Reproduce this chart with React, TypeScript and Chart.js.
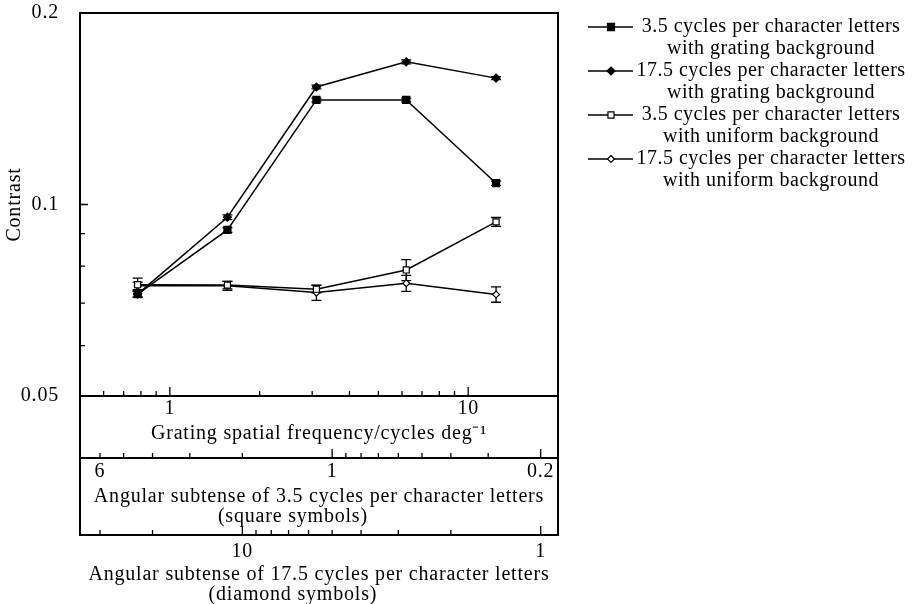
import React, { useEffect, useRef } from 'react';
import { Chart, registerables } from 'chart.js';

Chart.register(...registerables);

// ---- data ----
const FREQ = [0.78, 1.56, 3.1, 6.2, 12.4];

const GRATING_35 = [0.0723, 0.0912, 0.146, 0.146, 0.108];
const GRATING_35_ERR = [0.0008, 0.0008, 0.001, 0.001, 0.0008];
const GRATING_175 = [0.0723, 0.0955, 0.153, 0.1676, 0.158];
const GRATING_175_ERR = [0.0008, 0.0008, 0.001, 0.0012, 0.0009];
const UNIFORM_35 = [0.0748, 0.0747, 0.0736, 0.0789, 0.0939];
const UNIFORM_35_ERR = [0.0018, 0.001, 0.001, 0.003, 0.0015];
const UNIFORM_175 = [0.0745, 0.0745, 0.0727, 0.0752, 0.0722];
const UNIFORM_175_ERR = [0.001, 0.0012, 0.002, 0.0022, 0.002];

const X_MIN = 0.5;
const X_MAX = 20;
const Y_MIN = 0.05;
const Y_MAX = 0.2;
const CYCLES_A = 3.5;
const CYCLES_B = 17.5;

const FREQ_TICKS = [0.6, 0.7, 0.8, 0.9, 1, 2, 3, 4, 5, 6, 7, 8, 9, 10];
const FREQ_LABELS = [1, 10];
const SUB_A_TICKS = [6, 5, 4, 3, 2, 1, 0.9, 0.8, 0.7, 0.6, 0.5, 0.4, 0.3, 0.2];
const SUB_A_LABELS = [6, 1, 0.2];
const SUB_B_TICKS = [30, 20, 10, 9, 8, 7, 6, 5, 4, 3, 2, 1];
const SUB_B_LABELS = [10, 1];
const CONTRAST_TICKS = [0.06, 0.07, 0.08, 0.09, 0.1];
const CONTRAST_LABELS = [0.05, 0.1, 0.2];

const LEGEND_TEXT = [
  ['3.5 cycles per character letters', 'with grating background'],
  ['17.5 cycles per character letters', 'with grating background'],
  ['3.5 cycles per character letters', 'with uniform background'],
  ['17.5 cycles per character letters', 'with uniform background'],
];

const NB = '\u00A0'.repeat(9);
const X_TITLE = 'Grating spatial frequency/cycles deg\u207B\u00B9';
const XA_TITLE = ['Angular subtense of 3.5 cycles per character letters', '(square symbols)' + NB];
const XB_TITLE = ['Angular subtense of 17.5 cycles per character letters', '(diamond symbols)' + NB];
const Y_TITLE = 'Contrast';

const FONT = "'Liberation Serif', 'Times New Roman', serif";

type Marker = { style: 'rect' | 'rectRot'; r: number; filled: boolean };

const SERIES: { label: string; values: number[]; err: number[]; marker: Marker }[] = [
  { label: LEGEND_TEXT[0].join(' '), values: GRATING_35, err: GRATING_35_ERR, marker: { style: 'rect', r: 5, filled: true } },
  { label: LEGEND_TEXT[1].join(' '), values: GRATING_175, err: GRATING_175_ERR, marker: { style: 'rectRot', r: 4, filled: true } },
  { label: LEGEND_TEXT[2].join(' '), values: UNIFORM_35, err: UNIFORM_35_ERR, marker: { style: 'rect', r: 4.3, filled: false } },
  { label: LEGEND_TEXT[3].join(' '), values: UNIFORM_175, err: UNIFORM_175_ERR, marker: { style: 'rectRot', r: 3.5, filled: false } },
];

function drawMarker(ctx: CanvasRenderingContext2D, m: Marker, x: number, y: number) {
  ctx.beginPath();
  if (m.style === 'rect') {
    const s = m.r * Math.SQRT1_2;
    ctx.rect(x - s, y - s, 2 * s, 2 * s);
  } else {
    ctx.moveTo(x, y - m.r);
    ctx.lineTo(x + m.r, y);
    ctx.lineTo(x, y + m.r);
    ctx.lineTo(x - m.r, y);
    ctx.closePath();
  }
  ctx.fillStyle = m.filled ? '#000' : '#fff';
  ctx.fill();
  ctx.lineWidth = 1.2;
  ctx.strokeStyle = '#000';
  ctx.stroke();
}

const decorPlugin = {
  id: 'decor',
  beforeDraw(chart: any) {
    (chart.ctx as any).letterSpacing = '0.8px';
  },
  beforeDatasetsDraw(chart: any) {
    const ctx: CanvasRenderingContext2D = chart.ctx;
    const xs = chart.scales.x;
    const ys = chart.scales.y;
    ctx.save();
    ctx.strokeStyle = '#000';
    ctx.lineWidth = 1.3;
    SERIES.forEach((s) => {
      s.values.forEach((v, i) => {
        const px = xs.getPixelForValue(FREQ[i]);
        const y1 = ys.getPixelForValue(v + s.err[i]);
        const y2 = ys.getPixelForValue(v - s.err[i]);
        ctx.beginPath();
        ctx.moveTo(px, y1);
        ctx.lineTo(px, y2);
        ctx.moveTo(px - 5, y1);
        ctx.lineTo(px + 5, y1);
        ctx.moveTo(px - 5, y2);
        ctx.lineTo(px + 5, y2);
        ctx.stroke();
      });
    });
    ctx.restore();
  },
  afterDraw(chart: any) {
    const ctx: CanvasRenderingContext2D = chart.ctx;
    const { left, right, top } = chart.chartArea;
    const xs = chart.scales.x;
    const xa = chart.scales.xa;
    const xb = chart.scales.xb;
    const ys = chart.scales.y;
    ctx.save();
    ctx.strokeStyle = '#000';
    ctx.lineCap = 'butt';
    // frame
    ctx.lineWidth = 2;
    ctx.beginPath();
    ctx.moveTo(left, xb.top);
    ctx.lineTo(left, top);
    ctx.lineTo(right, top);
    ctx.lineTo(right, xb.top);
    ctx.stroke();
    // inward ticks
    ctx.lineWidth = 1.3;
    ctx.beginPath();
    CONTRAST_TICKS.forEach((v) => {
      const py = ys.getPixelForValue(v);
      const len = CONTRAST_LABELS.includes(v) ? 8 : 5;
      ctx.moveTo(left, py);
      ctx.lineTo(left + len, py);
    });
    const hTicks = (scale: any, vals: number[], majors: number[]) => {
      vals.forEach((v) => {
        const px = scale.getPixelForValue(v);
        const len = majors.includes(v) ? 9 : 5;
        ctx.moveTo(px, scale.top);
        ctx.lineTo(px, scale.top - len);
      });
    };
    hTicks(xs, FREQ_TICKS, FREQ_LABELS);
    hTicks(xa, SUB_A_TICKS, [1, 0.2]);
    hTicks(xb, SUB_B_TICKS, SUB_B_LABELS);
    ctx.stroke();

    // legend
    const lineX0 = right + 30;
    const lineX1 = right + 75;
    const markX = right + 53;
    const textX = right + 213;
    const rowH = 22;
    let y = 27;
    (ctx as any).letterSpacing = '0.5px';
    ctx.font = `20px ${FONT}`;
    ctx.fillStyle = '#000';
    ctx.textAlign = 'center';
    ctx.textBaseline = 'middle';
    SERIES.forEach((s, i) => {
      ctx.lineWidth = 1.3;
      ctx.beginPath();
      ctx.moveTo(lineX0, y);
      ctx.lineTo(lineX1, y);
      ctx.stroke();
      drawMarker(ctx, s.marker, markX, y);
      ctx.fillStyle = '#000';
      LEGEND_TEXT[i].forEach((t, j) => {
        ctx.fillText(t, textX, y + j * rowH);
      });
      y += rowH * 2;
    });
    ctx.restore();
    (ctx as any).letterSpacing = '0px';
  },
};

export default function App() {
  const ref = useRef<HTMLCanvasElement | null>(null);

  useEffect(() => {
    if (!ref.current) return;
    Chart.defaults.font.family = FONT;
    Chart.defaults.color = '#000';

    const datasets = SERIES.map((s) => ({
      label: s.label,
      data: FREQ.map((f, i) => ({ x: f, y: s.values[i] })),
      borderColor: '#000',
      borderWidth: 1.5,
      pointStyle: s.marker.style,
      pointRadius: s.marker.r,
      pointBackgroundColor: s.marker.filled ? '#000' : '#fff',
      pointBorderColor: '#000',
      pointBorderWidth: 1.2,
      tension: 0,
      fill: false,
    }));

    const labelTicks = (vals: number[]) => (scale: any) => {
      scale.ticks = vals.map((v) => ({ value: v }));
    };
    const fitH = (h: number) => (s: any) => {
      s.height = h;
      s.paddingLeft = 0;
      s.paddingRight = 0;
      s.paddingTop = 0;
      s.paddingBottom = 0;
    };

    const chart = new Chart(ref.current, {
      type: 'line',
      data: { datasets },
      plugins: [decorPlugin],
      options: {
        animation: false,
        responsive: false,
        devicePixelRatio: 1,
        layout: { padding: { left: 0, top: 13, right: 363, bottom: 0 } },
        plugins: { legend: { display: false }, tooltip: { enabled: false } },
        scales: {
          x: {
            type: 'logarithmic',
            position: 'bottom',
            weight: 0,
            min: X_MIN,
            max: X_MAX,
            afterBuildTicks: labelTicks(FREQ_LABELS),
            afterFit: fitH(62),
            grid: { display: true, drawOnChartArea: false, drawTicks: false },
            border: { display: true, color: '#000', width: 2 },
            ticks: { autoSkip: false, maxRotation: 0, padding: 1, font: { size: 20 }, callback: (v: any) => String(v) },
            title: { display: true, text: X_TITLE, font: { size: 20 }, padding: { top: 0, bottom: 12 } },
          },
          xa: {
            type: 'logarithmic',
            position: 'bottom',
            weight: 1,
            reverse: true,
            min: CYCLES_A / X_MAX,
            max: CYCLES_A / X_MIN,
            afterBuildTicks: labelTicks(SUB_A_LABELS),
            afterFit: fitH(77),
            grid: { display: true, drawOnChartArea: false, drawTicks: false },
            border: { display: true, color: '#000', width: 2 },
            ticks: { autoSkip: false, maxRotation: 0, padding: 2, font: { size: 20 }, callback: (v: any) => String(v) },
            title: { display: true, text: XA_TITLE, font: { size: 20, lineHeight: '20px' }, padding: { top: 0, bottom: 8 } },
          },
          xb: {
            type: 'logarithmic',
            position: 'bottom',
            weight: 2,
            reverse: true,
            min: CYCLES_B / X_MAX,
            max: CYCLES_B / X_MIN,
            afterBuildTicks: labelTicks(SUB_B_LABELS),
            afterFit: fitH(69),
            grid: { display: true, drawOnChartArea: false, drawTicks: false },
            border: { display: true, color: '#000', width: 2 },
            ticks: { autoSkip: false, maxRotation: 0, padding: 5, font: { size: 20 }, callback: (v: any) => String(v) },
            title: { display: true, text: XB_TITLE, font: { size: 20, lineHeight: '20px' }, padding: { top: 0, bottom: -1 } },
          },
          y: {
            type: 'logarithmic',
            position: 'left',
            min: Y_MIN,
            max: Y_MAX,
            afterBuildTicks: labelTicks(CONTRAST_LABELS),
            afterFit: (s: any) => {
              s.width = 80;
              s.paddingTop = 0;
              s.paddingBottom = 0;
              s.paddingLeft = 0;
              s.paddingRight = 0;
            },
            grid: { display: true, drawOnChartArea: false, drawTicks: false },
            border: { display: true, color: '#000', width: 2 },
            ticks: { autoSkip: false, padding: 21, font: { size: 20 }, callback: (v: any) => String(v) },
            title: { display: true, text: Y_TITLE, font: { size: 20 }, padding: { top: 3, bottom: 0 } },
          },
        },
      } as any,
    });
    return () => chart.destroy();
  }, []);

  return (
    <div style={{ position: 'absolute', left: 0, top: 0, width: 921, height: 604, background: '#fff' }}>
      <canvas ref={ref} width={921} height={604} />
    </div>
  );
}
